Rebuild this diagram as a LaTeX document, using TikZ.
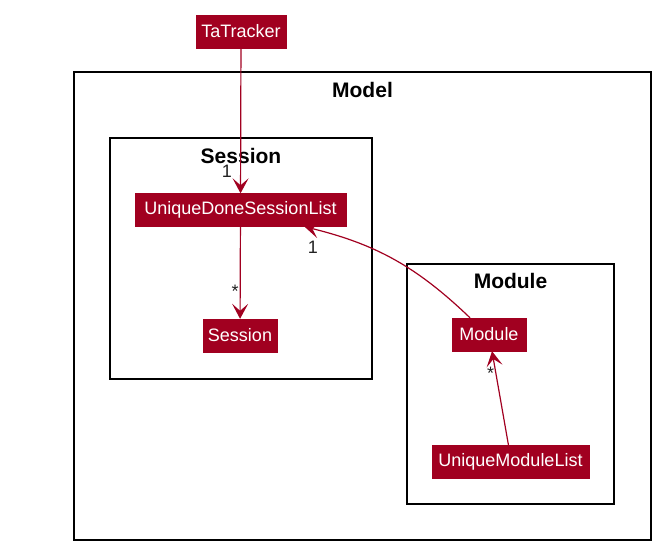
\documentclass[tikz,border=0pt]{standalone}
\usepackage{fontspec}
\setmainfont{Liberation Sans}
\usetikzlibrary{arrows.meta, positioning, calc}
\definecolor{umlred}{HTML}{A10020}
\definecolor{labelgray}{HTML}{222222}

\begin{document}
\begin{tikzpicture}[
    x=1pt, y=-1pt,
    cls/.style={fill=umlred, draw=umlred, text=white, minimum width=#1, minimum height=33pt,
      inner sep=0pt, font=\fontsize{18}{20}\selectfont},
    pkg/.style={draw=black, line width=1.6pt},
    pkgtitle/.style={font=\fontsize{21}{24}\selectfont\bfseries, inner sep=0pt},
    dep/.style={-{Stealth[length=15pt, width=16pt, inset=7pt]}, umlred, line width=1.2pt},
    mult/.style={font=\fontsize{18}{20}\selectfont, text=labelgray, inner sep=1pt},
]
    \useasboundingbox (0,0) rectangle (665,555);

    % Packages (frames)
    \draw[pkg] (74,72) rectangle (651,540);
    \coordinate (modeltop) at (362.5,72);
    \node[pkgtitle, below=10pt of modeltop] (modeltitle) {Model};

    \draw[pkg] (110,138) rectangle (372,379);
    \coordinate (sessiontop) at (241,138);
    \node[pkgtitle, below=10pt of sessiontop] (sessiontitle) {Session};

    \draw[pkg] (407,264) rectangle (614,504);
    \coordinate (moduletop) at (510.5,264);
    \node[pkgtitle, below=9pt of moduletop] (moduletitle) {Module};

    % Classes
    \node[cls=90pt] (tatracker) at (241,31.5) {TaTracker};
    \node[cls=211pt] (udsl) at (240.5,210) {UniqueDoneSessionList};
    \node[cls=74pt] (session) at (240,335.5) {Session};
    \node[cls=74pt] (module) at (489,334.5) {Module};
    \node[cls=157pt] (uml) at (510.5,462) {UniqueModuleList};

    % Associations
    \draw[dep] (tatracker) -- node[mult, pos=0.85, left=7pt] {1} (udsl);
    \draw[dep] (udsl) -- node[mult, pos=0.7, left=0pt] {*} (session);
    \draw[dep] ([xshift=-19pt]module.north) to[bend right=15]
        node[mult, pos=0.96, below=11pt] {1} ([xshift=64pt]udsl.south);
    \draw[dep] ([xshift=-2pt]uml.north) -- node[mult, pos=0.77, left=0pt] {*} ([xshift=3pt]module.south);

\end{tikzpicture}
\end{document}
